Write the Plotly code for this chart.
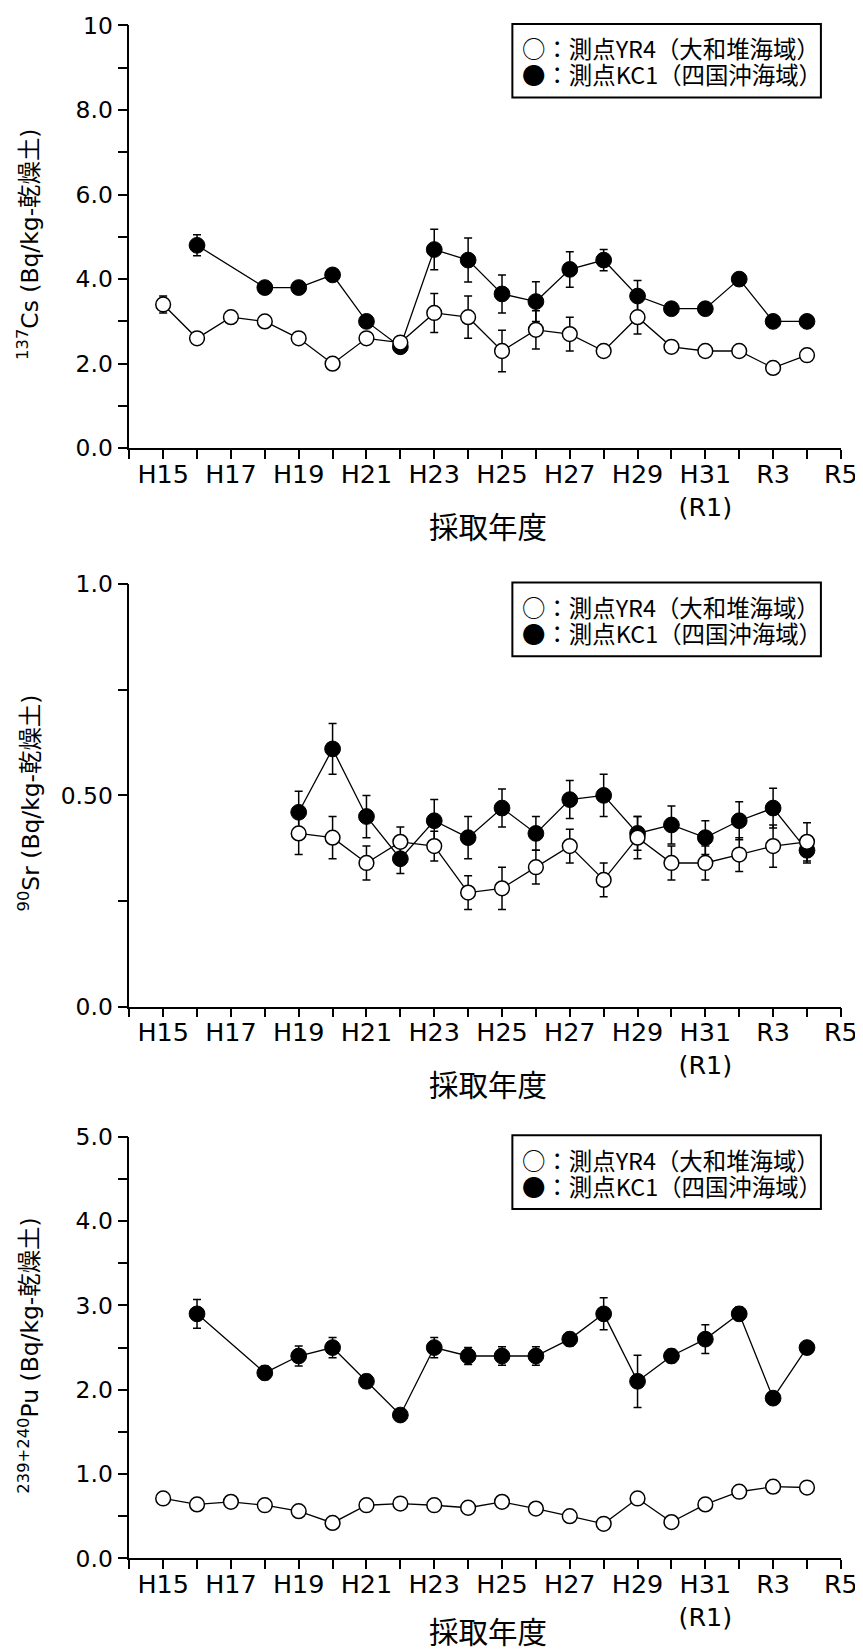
import plotly.graph_objects as go

W, H = 863, 1650

# ---------------- data ----------------
# fiscal years (H15 = 2003 ... R4 = 2022)
years_yr4 = list(range(2003, 2023))
years_kc1 = [2004] + list(range(2006, 2023))
years_sr = list(range(2007, 2023))

cs_yr4 = [3.4, 2.6, 3.1, 3.0, 2.6, 2.0, 2.6, 2.5, 3.2, 3.1, 2.3, 2.8, 2.7, 2.3, 3.1, 2.4, 2.3, 2.3, 1.9, 2.2]
cs_yr4_err = [0.2, 0.1, 0.1, 0.1, 0.1, 0.1, 0.1, 0.1, 0.46, 0.5, 0.49, 0.45, 0.4, 0.1, 0.4, 0.1, 0.1, 0.1, 0.1, 0.1]
cs_kc1 = [4.8, 3.8, 3.8, 4.1, 3.0, 2.4, 4.7, 4.45, 3.65, 3.47, 4.23, 4.45, 3.6, 3.3, 3.3, 4.0, 3.0, 3.0]
cs_kc1_err = [0.25, 0.1, 0.1, 0.1, 0.1, 0.1, 0.48, 0.52, 0.45, 0.47, 0.42, 0.25, 0.37, 0.1, 0.1, 0.15, 0.1, 0.1]

sr_yr4 = [0.41, 0.40, 0.34, 0.39, 0.38, 0.27, 0.28, 0.33, 0.38, 0.30, 0.40, 0.34, 0.34, 0.36, 0.38, 0.39]
sr_yr4_err = [0.05, 0.05, 0.04, 0.035, 0.035, 0.04, 0.05, 0.04, 0.04, 0.04, 0.05, 0.04, 0.04, 0.04, 0.05, 0.045]
sr_kc1 = [0.46, 0.61, 0.45, 0.35, 0.44, 0.40, 0.47, 0.41, 0.49, 0.50, 0.41, 0.43, 0.40, 0.44, 0.47, 0.37]
sr_kc1_err = [0.05, 0.06, 0.05, 0.035, 0.05, 0.05, 0.045, 0.04, 0.045, 0.05, 0.04, 0.045, 0.04, 0.045, 0.047, 0.03]

pu_yr4 = [0.71, 0.64, 0.67, 0.63, 0.56, 0.42, 0.63, 0.65, 0.63, 0.60, 0.67, 0.59, 0.50, 0.41, 0.71, 0.43, 0.64, 0.79, 0.85, 0.84]
pu_yr4_err = [0.03] * 20
pu_kc1 = [2.9, 2.2, 2.4, 2.5, 2.1, 1.7, 2.5, 2.4, 2.4, 2.4, 2.6, 2.9, 2.1, 2.4, 2.6, 2.9, 1.9, 2.5]
pu_kc1_err = [0.17, 0.08, 0.12, 0.12, 0.08, 0.05, 0.12, 0.1, 0.11, 0.11, 0.08, 0.19, 0.31, 0.08, 0.17, 0.08, 0.05, 0.05]

x_tickvals = list(range(2003, 2024, 2))
x_ticktext = ["H15", "H17", "H19", "H21", "H23", "H25", "H27", "H29", "H31<br>(R1)", "R3", "R5"]

cs_tickvals = [0, 2, 4, 6, 8, 10]
cs_ticktext = ["0.0", "2.0", "4.0", "6.0", "8.0", "10"]
sr_tickvals = [0, 0.5, 1.0]
sr_ticktext = ["0.0", "0.50", "1.0"]
pu_tickvals = [0, 1, 2, 3, 4, 5]
pu_ticktext = ["0.0", "1.0", "2.0", "3.0", "4.0", "5.0"]

y_titles = ["<sup>137</sup>Cs (Bq/kg-乾燥土)", "<sup>90</sup>Sr (Bq/kg-乾燥土)", "<sup>239+240</sup>Pu (Bq/kg-乾燥土)"]
x_title = "採取年度"
legend_yr4 = "○：測点YR4（大和堆海域）"
legend_kc1 = "●：測点KC1（四国沖海域）"

# ---------------- layout geometry ----------------
# The figure sits below/right of the default page margins and the whole page
# is fitted into the window; positions are given in photograph pixels and
# converted back to figure paper units.
S = 0.9818
PAGE_DX, PAGE_DY = 8.0, 23.0


def px_x(v):
    return (v / S - PAGE_DX) / W


def px_y(v):
    return 1 - (v / S - PAGE_DY) / H


def fs(v):
    return v / S


X_LEFT, X_RIGHT = 129.3, 842
panels = [(26, 448.3), (584, 1006), (1136, 1557)]  # (top, bottom) in photo px
x_title_gap = [77, 77, 72]
y_ranges = [[0, 10], [0, 1.0], [0, 5.0]]
y_minor = [1, 0.25, 0.5]
y_ticks = [(cs_tickvals, cs_ticktext), (sr_tickvals, sr_ticktext), (pu_tickvals, pu_ticktext)]

series = [
    (years_kc1, cs_kc1, cs_kc1_err, years_yr4, cs_yr4, cs_yr4_err),
    (years_sr, sr_kc1, sr_kc1_err, years_sr, sr_yr4, sr_yr4_err),
    (years_kc1, pu_kc1, pu_kc1_err, years_yr4, pu_yr4, pu_yr4_err),
]

fig = go.Figure()
TICK_FONT = "DejaVu Sans, Verdana, sans-serif"
CJK_FONT = "Noto Sans CJK JP, sans-serif"

for i, (xk, yk, ek, xy, yy, ey) in enumerate(series):
    suffix = "" if i == 0 else str(i + 1)
    xa, ya = "x" + suffix, "y" + suffix
    fig.add_trace(go.Scatter(
        x=xk, y=yk, xaxis=xa, yaxis=ya, mode="lines+markers",
        line=dict(color="black", width=1.3),
        marker=dict(symbol="circle", size=fs(15.5), color="black", line=dict(color="black", width=1)),
        error_y=dict(type="data", array=ek, visible=True, color="black", thickness=1.5, width=4),
        showlegend=False, name="KC1",
    ))
    fig.add_trace(go.Scatter(
        x=xy, y=yy, xaxis=xa, yaxis=ya, mode="lines+markers",
        line=dict(color="black", width=1.3),
        marker=dict(symbol="circle", size=fs(14.5), color="white", line=dict(color="black", width=1.5)),
        error_y=dict(type="data", array=ey, visible=True, color="black", thickness=1.5, width=4),
        showlegend=False, name="YR4",
    ))

    top, bottom = panels[i]
    tv, tt = y_ticks[i]
    fig.layout["xaxis" + suffix] = dict(
        domain=[px_x(X_LEFT), px_x(X_RIGHT)], anchor=ya, range=[2002, 2023],
        showline=True, linecolor="black", linewidth=1.5, showgrid=False, zeroline=False,
        ticks="outside", ticklen=9, tickwidth=1.5, tickcolor="black",
        tickmode="array", tickvals=x_tickvals, ticktext=x_ticktext,
        tickfont=dict(family=TICK_FONT, size=fs(25), color="black"),
        ticklabelstandoff=-7, ticklabeloverflow="allow",
        minor=dict(ticks="outside", ticklen=9, tickwidth=1.5, tickcolor="black", dtick=1, tick0=2002, showgrid=False),
    )
    fig.layout["yaxis" + suffix] = dict(
        domain=[px_y(bottom), px_y(top)], anchor=xa, range=y_ranges[i],
        showline=True, linecolor="black", linewidth=1.5, showgrid=False, zeroline=False,
        ticks="outside", ticklen=10, tickwidth=1.5, tickcolor="black",
        tickmode="array", tickvals=tv, ticktext=tt,
        tickfont=dict(family=TICK_FONT, size=fs(23), color="black"),
        ticklabelstandoff=0,
        minor=dict(ticks="outside", ticklen=10, tickwidth=1.5, tickcolor="black", dtick=y_minor[i], tick0=0, showgrid=False),
    )

    # y-axis title
    fig.add_annotation(
        xref="paper", yref="paper", x=px_x(29), y=px_y((top + bottom) / 2 + 8),
        text=y_titles[i], textangle=-90, showarrow=False, xanchor="center", yanchor="middle",
        font=dict(family="DejaVu Sans, Noto Sans CJK JP, sans-serif", size=fs(23), color="black"),
    )
    # x-axis title
    fig.add_annotation(
        xref="paper", yref="paper", x=px_x(489), y=px_y(bottom + x_title_gap[i]),
        text=x_title, showarrow=False, xanchor="center", yanchor="middle",
        font=dict(family=CJK_FONT, size=fs(29), color="black"),
    )
    # legend box
    fig.add_shape(
        type="rect", xref="paper", yref="paper",
        x0=px_x(513), x1=px_x(822), y0=px_y(top - 1.5), y1=px_y(top + 72),
        line=dict(color="black", width=2), fillcolor="white", layer="above",
    )
    for txt, dy in ((legend_yr4, 23), (legend_kc1, 49)):
        fig.add_annotation(
            xref="paper", yref="paper", x=px_x(521), y=px_y(top + dy),
            text=txt, showarrow=False, xanchor="left", yanchor="middle",
            font=dict(family=CJK_FONT, size=fs(23), color="black"),
        )

fig.update_layout(
    width=W, height=H,
    margin=dict(l=0, r=0, t=0, b=0),
    paper_bgcolor="white", plot_bgcolor="white",
    showlegend=False,
)

fig.write_html("out.html", config={"displayModeBar": False})
